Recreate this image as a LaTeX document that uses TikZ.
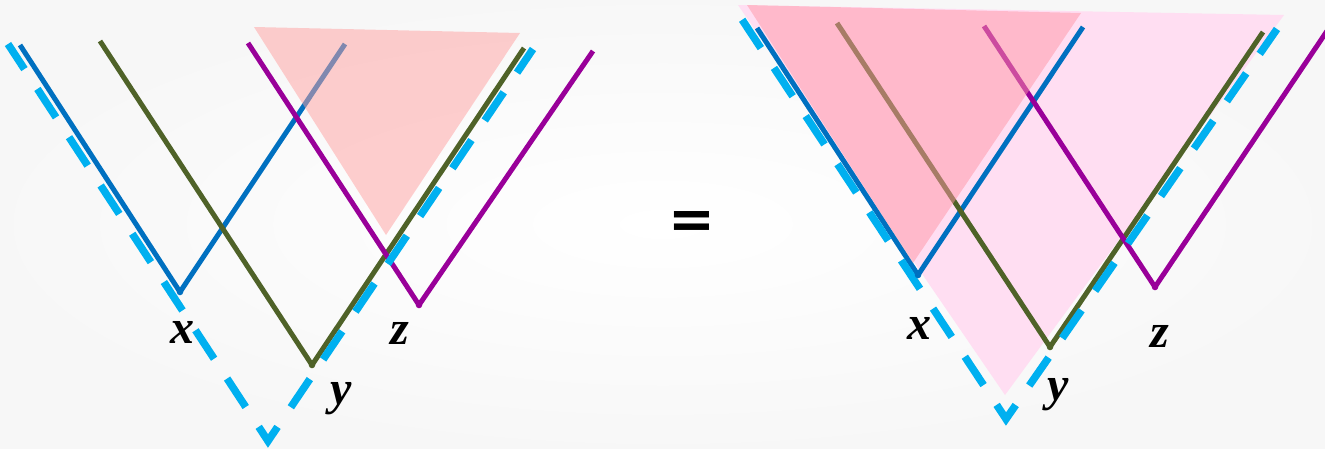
\documentclass[tikz,border=0pt]{standalone}
\usepackage{fontspec}
\newfontfamily\labelfont{Liberation Serif}
\newfontfamily\eqfont{DejaVu Sans}
\usetikzlibrary{positioning}

\definecolor{conecyan}{RGB}{0,176,240}
\definecolor{xblue}{RGB}{0,112,192}
\definecolor{yolive}{RGB}{79,98,40}
\definecolor{zpurple}{RGB}{153,0,153}
\definecolor{regionpink}{RGB}{255,160,160}
\definecolor{regionred}{RGB}{255,150,165}
\definecolor{regionlight}{RGB}{255,222,242}

\tikzset{
  worldline/.style={line width=5pt, line join=round},
  vertexdot/.style={line width=1.4pt, fill=white},
  pastcone/.style={conecyan, line width=7.5pt, line join=miter,
    dash pattern=on 34pt off 23.7pt},
  pointlabel/.style={font=\labelfont\bfseries\itshape\fontsize{48}{48}\selectfont,
    inner sep=0pt},
}

\begin{document}
\begin{tikzpicture}[x=1pt,y=-1pt]
  \useasboundingbox (0,0) rectangle (1325,448);
  \shade[inner color=white, outer color=black!3] (0,0) rectangle (1325,448);

  % left side
  \coordinate (xL-l) at (20,45);   \coordinate (xL) at (180,292);  \coordinate (xL-r) at (345,44);
  \coordinate (yL-l) at (100,41);  \coordinate (yL) at (312,365);  \coordinate (yL-r) at (524,48);
  \coordinate (zL-l) at (248,43);  \coordinate (zL) at (419,305);  \coordinate (zL-r) at (593,51);
  \coordinate (cL-l) at (8,44);    \coordinate (cL) at (268,441);  \coordinate (cL-r) at (533,49);
  \coordinate (tL-a) at (254,27);  \coordinate (tL-b) at (520,33); \coordinate (tL-c) at (386,235);

  \draw[worldline, xblue] (xL-l) -- (xL) -- (xL-r);
  \draw[worldline, yolive] (yL-l) -- (yL) -- (yL-r);
  \draw[worldline, zpurple] (zL-l) -- (zL) -- (zL-r);
  \fill[regionpink, opacity=0.5] (tL-a) -- (tL-b) -- (tL-c) -- cycle;
  \draw[pastcone, dash phase=4pt] (cL-l) -- (cL) -- (cL-r);
  \draw[vertexdot, xblue] (xL) circle (2.5pt);
  \draw[vertexdot, yolive] (yL) circle (2.5pt);
  \draw[vertexdot, zpurple] (zL) circle (2.5pt);
  \node[pointlabel, below=29pt of xL, xshift=2pt] (xL-lab) {x};
  \node[pointlabel, below=17pt of yL, xshift=29pt] (yL-lab) {y};
  \node[pointlabel, below=17pt of zL, xshift=-19pt] (zL-lab) {z};

  \node[font=\eqfont\bfseries\fontsize{56}{56}\selectfont, inner sep=0pt] (eq) at (692,225) {=};

  % right side
  \coordinate (xR-l) at (757,28);  \coordinate (xR) at (918,275);  \coordinate (xR-r) at (1083,27);
  \coordinate (yR-l) at (837,23);  \coordinate (yR) at (1050,347); \coordinate (yR-r) at (1263,32);
  \coordinate (zR-l) at (984,26);  \coordinate (zR) at (1155,287); \coordinate (zR-r) at (1329,28);
  \coordinate (cR-l) at (737,12);  \coordinate (cR) at (1006,419); \coordinate (cR-r) at (1277,29);
  \coordinate (uR-a) at (738,5);   \coordinate (uR-b) at (1284,15); \coordinate (uR-c) at (1005,395);
  \coordinate (tR-a) at (747,5);   \coordinate (tR-b) at (1081,13); \coordinate (tR-c) at (913,263);

  \fill[regionlight] (uR-a) -- (uR-b) -- (uR-c) -- cycle;
  \draw[worldline, xblue] (xR-l) -- (xR) -- (xR-r);
  \draw[worldline, yolive] (yR-l) -- (yR) -- (yR-r);
  \draw[worldline, zpurple] (zR-l) -- (zR) -- (zR-r);
  \fill[regionred, opacity=0.5] (tR-a) -- (tR-b) -- (tR-c) -- cycle;
  \draw[pastcone, dash phase=48.4pt] (cR-l) -- (cR) -- (cR-r);
  \draw[vertexdot, xblue] (xR) circle (2.5pt);
  \draw[vertexdot, yolive] (yR) circle (2.5pt);
  \draw[vertexdot, zpurple] (zR) circle (2.5pt);
  \node[pointlabel, below=42pt of xR, xshift=1pt] (xR-lab) {x};
  \node[pointlabel, below=31pt of yR, xshift=8pt] (yR-lab) {y};
  \node[pointlabel, below=38pt of zR, xshift=5pt] (zR-lab) {z};
\end{tikzpicture}
\end{document}
